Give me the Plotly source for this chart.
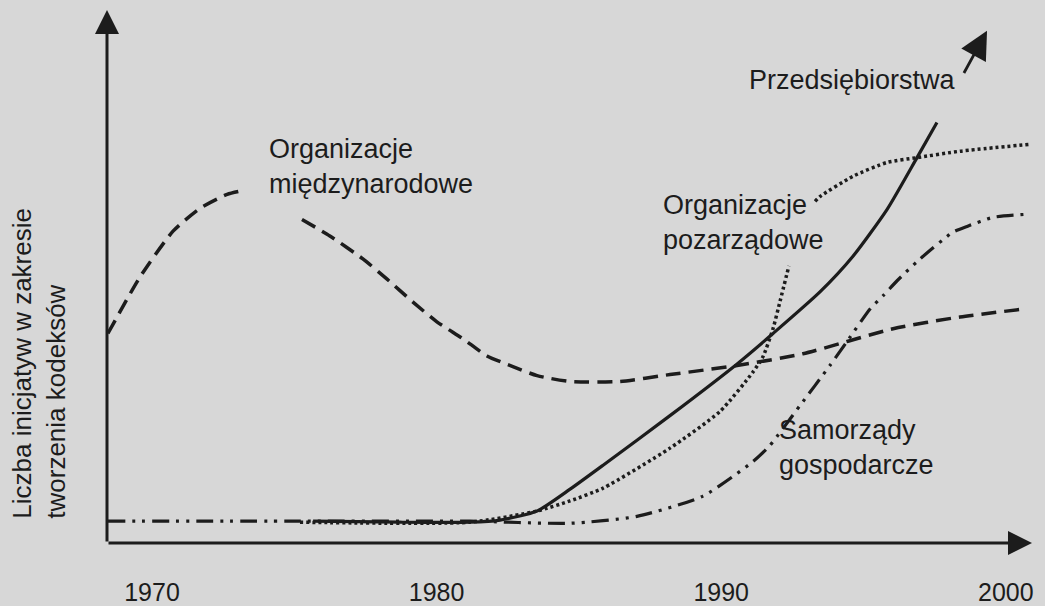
import plotly.graph_objects as go

# ---- data (years on x, relative number of initiatives 0-100 on y) ----
tick_years = [1970, 1980, 1990, 2000]
tick_labels = ["1970", "1980", "1990", "2000"]

# Organizacje międzynarodowe (dashed, broken by its label)
intl_x = [1968.45, 1969.58, 1970.74, 1971.69, 1972.64, 1973.27, None,
          1975.27, 1976.25, 1977.41, 1978.26, 1979.17, 1980.01, 1980.93,
          1981.77, 1982.68, 1983.53, 1984.69, 1986.44, 1988.20, 1990.56,
          1992.87, 1996.04, 1998.39, 2000.64]
intl_y = [39.3, 49.9, 58.5, 62.8, 65.4, 66.2, None,
          60.7, 57.6, 53.3, 49.5, 45.2, 41.5, 38.3,
          35.1, 33.1, 31.4, 30.3, 30.3, 31.6, 33.3,
          35.5, 40.2, 42.4, 43.9]

# Przedsiębiorstwa (solid)
firm_x = [1975.66, 1978.71, 1981.17, 1982.23, 1983.53, 1984.69, 1985.85, 1988.20,
          1990.56, 1991.82, 1993.47, 1994.63, 1995.83, 1996.88, 1997.58]
firm_y = [4.1, 3.9, 3.9, 4.3, 6.0, 10.1, 14.6, 23.9,
          33.6, 39.3, 47.1, 53.8, 62.6, 72.3, 78.9]

# Organizacje pozarządowe (dotted, broken by its label)
ngo_x = [1975.20, 1981.17, 1983.53, 1984.69, 1985.85, 1988.20, 1989.96, 1991.12,
         1991.47, 1991.82, 1992.07, 1992.38, None,
         1993.30, 1993.47, 1994.63, 1995.83, 1996.88, 1998.39, 2000.85]
ngo_y = [3.9, 3.9, 6.0, 7.9, 10.3, 17.8, 24.7, 32.1,
         35.0, 40.2, 45.4, 52.0, None,
         64.1, 65.0, 68.8, 71.4, 72.3, 73.5, 74.8]

# Samorządy gospodarcze (dash-dot-dot)
chamb_x = [1968.45, 1975.20, 1981.17, 1984.69, 1987.04, 1989.36, 1991.12,
           1991.71, 1992.77, 1993.82, 1994.42, 1995.23, 1995.69, 1996.18,
           1996.99, 1998.14, 1998.64, 1999.55, 2000.85]
chamb_y = [4.1, 4.1, 4.1, 3.7, 5.0, 8.8, 15.3,
           18.3, 25.8, 33.3, 37.8, 43.9, 46.4, 49.2,
           53.3, 58.3, 59.4, 61.1, 61.7]

INK = "#1c1c1c"
BG = "#d7d7d7"
FONT = "Liberation Sans, Arial, sans-serif"

X0, X1 = 1968.419, 2001.377
Y0, Y1 = 0.0, 101.87

fig = go.Figure()

def add_line(x, y, dash, width=3.0):
    fig.add_trace(go.Scatter(
        x=x, y=y, mode="lines",
        line=dict(color=INK, width=width, dash=dash, shape="spline", smoothing=0.6),
        connectgaps=False, hoverinfo="skip", showlegend=False))

add_line(intl_x, intl_y, "15px,8px", 3.5)
add_line(chamb_x, chamb_y, "17px,7px,3px,7px,3px,7px", 3.2)
add_line(ngo_x, ngo_y, "3px,3px", 3.5)
add_line(firm_x, firm_y, "solid", 3.2)

ann = []
# axes with arrow heads
ann.append(dict(x=2000.92, y=0, ax=X0, ay=0, xref="x", yref="y", axref="x", ayref="y",
                showarrow=True, arrowhead=2, arrowsize=1.6, arrowwidth=3, arrowcolor=INK, text=""))
ann.append(dict(x=X0, y=100, ax=X0, ay=0, xref="x", yref="y", axref="x", ayref="y",
                showarrow=True, arrowhead=2, arrowsize=1.6, arrowwidth=3, arrowcolor=INK, text=""))
# small arrow next to "Przedsiębiorstwa"
ann.append(dict(x=1999.34, y=96.1, ax=1998.50, ay=87.9, xref="x", yref="y", axref="x", ayref="y",
                showarrow=True, arrowhead=2, arrowsize=2.0, arrowwidth=2.8, arrowcolor=INK, text=""))

lab_font = dict(family=FONT, size=27, color=INK)
ann.append(dict(x=1974.04, y=70.7, xref="x", yref="y", text="Organizacje<br>międzynarodowe",
                showarrow=False, xanchor="left", yanchor="middle", align="left", font=lab_font))
ann.append(dict(x=1987.88, y=60.1, xref="x", yref="y", text="Organizacje<br>pozarządowe",
                showarrow=False, xanchor="left", yanchor="middle", align="left", font=lab_font))
ann.append(dict(x=1991.96, y=18.0, xref="x", yref="y", text="Samorządy<br>gospodarcze",
                showarrow=False, xanchor="left", yanchor="middle", align="left", font=lab_font))
ann.append(dict(x=1994.63, y=86.8, xref="x", yref="y", text="Przedsiębiorstwa",
                showarrow=False, xanchor="center", yanchor="middle", font=lab_font))
# y-axis title
ann.append(dict(x=-0.0725, y=0.332, xref="paper", yref="paper",
                text="Liczba inicjatyw w zakresie<br>tworzenia kodeksów",
                textangle=-90, showarrow=False, xanchor="center", yanchor="middle",
                align="left", font=dict(family=FONT, size=26, color=INK)))

fig.update_layout(
    width=1045, height=606,
    margin=dict(l=107, r=0, t=0, b=61, pad=0),
    paper_bgcolor=BG, plot_bgcolor=BG,
    showlegend=False,
    annotations=ann,
    xaxis=dict(range=[X0, X1], showgrid=False, zeroline=False, showline=False,
               tickvals=tick_years, ticktext=tick_labels, ticks="outside",
               ticklen=27, tickcolor="rgba(0,0,0,0)",
               tickfont=dict(family=FONT, size=25, color=INK), fixedrange=True),
    yaxis=dict(range=[Y0, Y1], showgrid=False, zeroline=False, showline=False,
               showticklabels=False, fixedrange=True),
)

fig.write_html("out.html", config={"displayModeBar": False},
               post_script="document.body.style.margin='0';document.body.style.background='%s';" % BG)
